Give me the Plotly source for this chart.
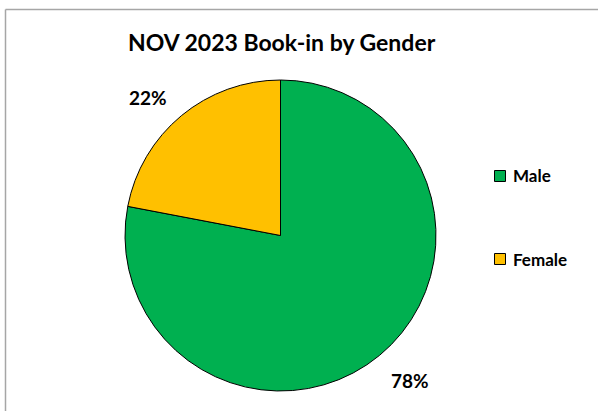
import plotly.graph_objects as go

categories = ["Male", "Female"]
values = [78, 22]
colors = ["#00B050", "#FFC000"]
title_text = "NOV 2023 Book-in by Gender"

W, H = 598, 411
total = sum(values)
pcts = [f"{round(v / total * 100)}%" for v in values]

cx, cy, r = 280.5, 235.5, 155.5

fig = go.Figure()
fig.add_trace(go.Pie(
    labels=categories, values=values, sort=False, direction="clockwise", rotation=0,
    marker=dict(colors=colors, line=dict(color="#000000", width=1)),
    textinfo="none", hoverinfo="label+percent", showlegend=False,
    domain=dict(x=[(cx - r) / W, (cx + r) / W], y=[1 - (cy + r) / H, 1 - (cy - r) / H]),
))

def px(x):
    return x / W

def py(y):
    return 1 - y / H

annotations = [
    dict(text=f"<b>{title_text}</b>", x=px(281.5), y=py(42), xref="paper", yref="paper",
         xanchor="center", yanchor="middle", showarrow=False,
         font=dict(family="Lato", size=23, color="#000000")),
]
label_pos = [(410, 380), (148, 97)]
for t, (x, y) in zip(pcts, label_pos):
    annotations.append(dict(text=f"<b>{t}</b>", x=px(x), y=py(y), xref="paper", yref="paper",
                            xanchor="center", yanchor="middle", showarrow=False,
                            font=dict(family="Lato", size=19, color="#000000")))

shapes = [
    dict(type="line", xref="paper", yref="paper", x0=px(5.5), x1=px(5.5), y0=0, y1=py(9.5),
         line=dict(color="#A6A6A6", width=1.5)),
    dict(type="line", xref="paper", yref="paper", x0=px(5.5), x1=1, y0=py(9.5), y1=py(9.5),
         line=dict(color="#A6A6A6", width=1.5)),
]
legend_y = [176, 259]
for cat, col, ly in zip(categories, colors, legend_y):
    shapes.append(dict(type="rect", xref="paper", yref="paper",
                       x0=px(494.5), x1=px(505.5), y0=py(ly + 5.5), y1=py(ly - 5.5),
                       fillcolor=col, line=dict(color="#000000", width=1)))
    annotations.append(dict(text=f"<b>{cat}</b>", x=px(511), y=py(ly), xref="paper", yref="paper",
                            xanchor="left", yanchor="middle", showarrow=False,
                            font=dict(family="Lato", size=17, color="#000000")))

fig.update_layout(
    width=W, height=H, margin=dict(l=0, r=0, t=0, b=0),
    paper_bgcolor="#FFFFFF", plot_bgcolor="#FFFFFF",
    annotations=annotations, shapes=shapes, showlegend=False,
)
fig.write_html("out.html", config={"displayModeBar": False},
               post_script="document.body.style.margin='0';document.body.style.overflow='hidden';")
